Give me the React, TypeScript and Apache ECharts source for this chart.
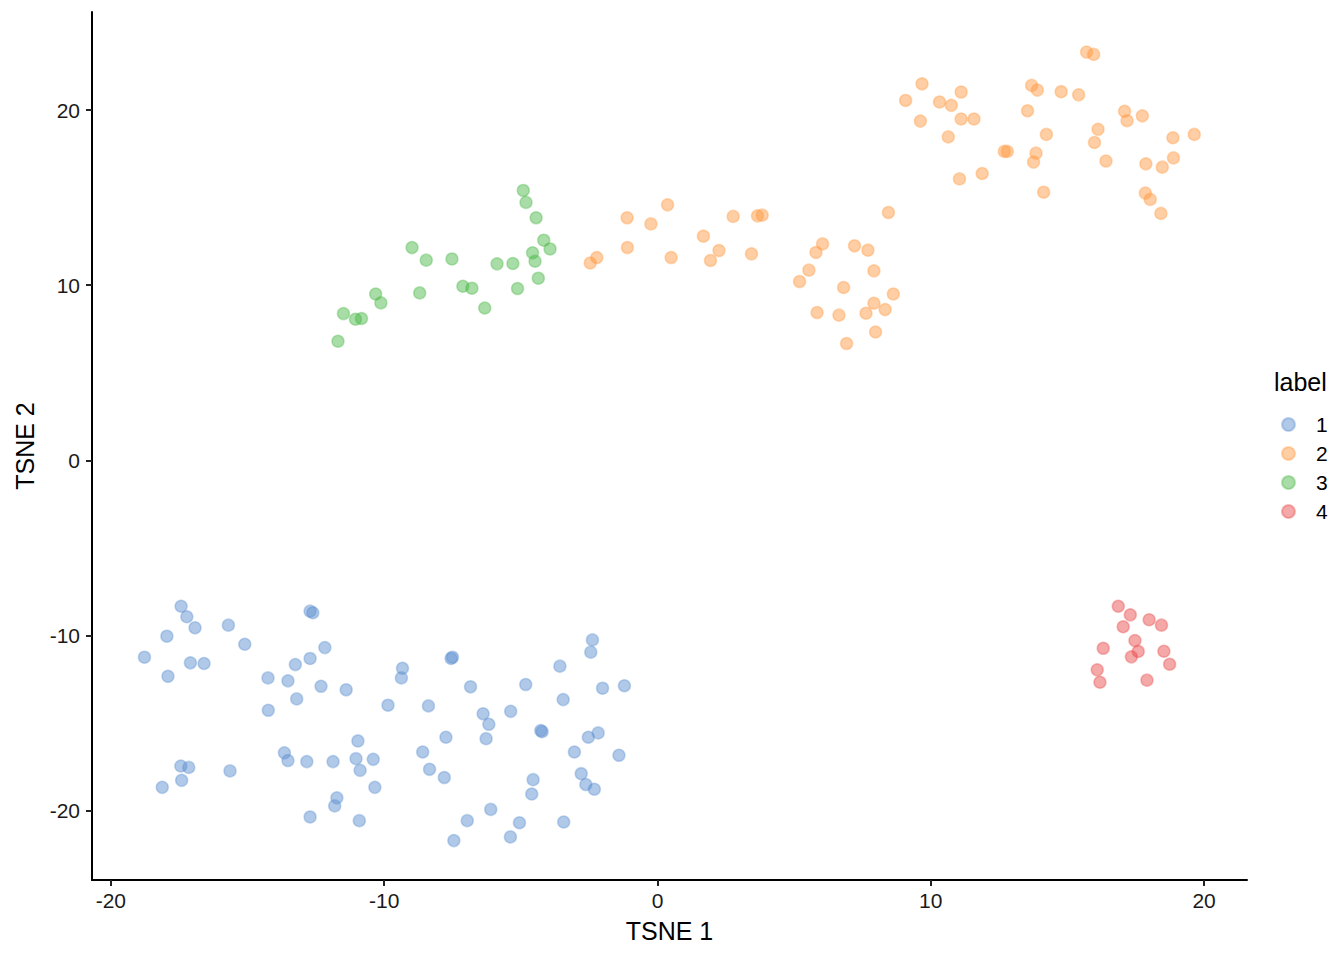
import React, { useEffect, useRef } from "react";
import * as echarts from "echarts";

const labels = ["1", "2", "3", "4"];
const colors = ["91,143,207", "255,153,64", "76,184,72", "232,74,74"];
const tickValuesX = [-20, -10, 0, 10, 20];
const tickValuesY = [-20, -10, 0, 10, 20];

const cluster1: number[][] = [
  [-17.43, -8.33], [-17.22, -8.93], [-16.92, -9.56], [-17.95, -10.04], [-18.77, -11.24],
  [-17.09, -11.56], [-16.59, -11.6], [-17.91, -12.33], [-15.7, -9.41], [-15.1, -10.5],
  [-12.71, -8.61], [-12.61, -8.7], [-12.17, -10.69], [-12.71, -11.31], [-13.25, -11.66],
  [-14.25, -12.42], [-13.52, -12.59], [-12.31, -12.9], [-11.39, -13.1], [-13.2, -13.62],
  [-14.24, -14.27], [-10.96, -16.02], [-13.65, -16.7], [-13.52, -17.14], [-12.83, -17.2],
  [-11.87, -17.2], [-11.03, -17.03], [-10.4, -17.07], [-10.88, -17.7], [-10.34, -18.67],
  [-17.44, -17.45], [-17.15, -17.53], [-17.41, -18.27], [-18.12, -18.67], [-15.64, -17.73],
  [-11.73, -19.27], [-11.81, -19.73], [-12.71, -20.36], [-10.91, -20.57],
  [-2.38, -10.25], [-2.44, -10.95], [-7.5, -11.24], [-7.55, -11.31], [-9.33, -11.87],
  [-9.37, -12.42], [-3.57, -11.75], [-6.84, -12.93], [-4.82, -12.8], [-2.01, -13.01],
  [-1.21, -12.87], [-9.86, -13.98], [-8.38, -14.02], [-3.45, -13.66], [-6.38, -14.47],
  [-6.17, -15.07], [-5.37, -14.33], [-4.27, -15.43], [-4.22, -15.49], [-2.17, -15.56],
  [-2.53, -15.81], [-7.74, -15.81], [-6.27, -15.89], [-8.59, -16.65], [-3.04, -16.65],
  [-1.41, -16.84], [-8.34, -17.64], [-7.8, -18.11], [-2.79, -17.89], [-4.55, -18.23],
  [-2.62, -18.51], [-2.31, -18.78], [-4.6, -19.05], [-6.1, -19.93], [-6.96, -20.57],
  [-5.05, -20.69], [-3.43, -20.65], [-7.45, -21.71], [-5.38, -21.5],
];

const cluster2: number[][] = [
  [0.37, 14.59], [-1.11, 13.85], [-0.24, 13.5], [2.77, 13.93], [3.66, 13.96], [3.83, 14.0],
  [1.68, 12.8], [-1.1, 12.15], [0.5, 11.58], [2.25, 11.98], [1.94, 11.41], [3.44, 11.79],
  [-2.22, 11.58], [-2.46, 11.27], [8.45, 14.15], [6.04, 12.36], [5.8, 11.87], [7.21, 12.25],
  [7.7, 12.0], [5.54, 10.86], [7.92, 10.82], [5.2, 10.21], [6.81, 9.87], [8.63, 9.5],
  [7.92, 8.97], [8.33, 8.61], [5.84, 8.44], [6.64, 8.29], [7.63, 8.4], [7.98, 7.33],
  [6.92, 6.67],
  [15.7, 23.31], [15.96, 23.18], [9.68, 21.5], [9.08, 20.55], [10.32, 20.46], [10.75, 20.27],
  [11.11, 21.03], [13.69, 21.41], [13.9, 21.14], [14.77, 21.05], [15.41, 20.87], [9.62, 19.37],
  [11.11, 19.49], [11.58, 19.49], [13.54, 19.96], [10.64, 18.47], [14.23, 18.61], [12.69, 17.64],
  [12.8, 17.64], [13.85, 17.54], [13.76, 17.03], [11.05, 16.07], [11.88, 16.38], [14.13, 15.31],
  [17.09, 19.93], [17.18, 19.39], [17.74, 19.67], [16.12, 18.9], [15.99, 18.15], [16.41, 17.09],
  [18.86, 18.42], [19.64, 18.61], [18.88, 17.27], [17.87, 16.93], [18.47, 16.74], [17.85, 15.26],
  [18.03, 14.9], [18.42, 14.1],
];

const cluster3: number[][] = [
  [-4.91, 15.41], [-4.81, 14.73], [-4.44, 13.85], [-4.16, 12.57], [-3.93, 12.07], [-4.57, 11.85],
  [-4.48, 11.37], [-4.36, 10.4], [-5.29, 11.24], [-5.87, 11.22], [-5.12, 9.81], [-6.32, 8.7],
  [-7.12, 9.94], [-6.79, 9.83], [-7.52, 11.5], [-8.98, 12.15], [-8.46, 11.43], [-8.7, 9.56],
  [-10.31, 9.5], [-10.12, 8.99], [-11.49, 8.38], [-11.05, 8.06], [-10.83, 8.1], [-11.69, 6.8],
];

const cluster4: number[][] = [
  [16.86, -8.33], [17.3, -8.82], [17.99, -9.1], [18.44, -9.41], [17.04, -9.5], [17.47, -10.29],
  [16.31, -10.73], [17.59, -10.91], [17.34, -11.22], [18.53, -10.9], [18.74, -11.64],
  [16.09, -11.96], [16.19, -12.67], [17.91, -12.55],
];

const clusters = [cluster1, cluster2, cluster3, cluster4];
const FONT = "'Liberation Sans', Arial, Helvetica, sans-serif";

export default function App() {
  const ref = useRef<HTMLDivElement>(null);
  useEffect(() => {
    document.body.style.margin = "0";
    const chart = echarts.init(ref.current!, null, { renderer: "svg" });
    const axisCommon = {
      type: "value" as const,
      splitLine: { show: false },
      axisLine: { show: true, onZero: false, lineStyle: { color: "#000", width: 2 } },
      axisTick: { show: true, length: 6, lineStyle: { color: "#222", width: 2 } },
      nameLocation: "middle" as const,
      nameTextStyle: { fontFamily: FONT, fontSize: 25, color: "#000" },
    };
    chart.setOption({
      animation: false,
      backgroundColor: "#fff",
      grid: { left: 92, right: 97, top: 12, bottom: 80 },
      xAxis: {
        ...axisCommon,
        min: -20.69,
        max: 21.57,
        name: "TSNE 1",
        nameGap: 38,
        axisTick: { ...axisCommon.axisTick, customValues: tickValuesX },
        axisLabel: {
          customValues: tickValuesX,
          margin: 10,
          fontFamily: FONT,
          fontSize: 21,
          color: "#1a1a1a",
        },
      },
      yAxis: {
        ...axisCommon,
        min: -23.96,
        max: 25.6,
        name: "TSNE 2",
        nameGap: 55,
        axisTick: { ...axisCommon.axisTick, customValues: tickValuesY },
        axisLabel: {
          customValues: tickValuesY,
          margin: 12,
          fontFamily: FONT,
          fontSize: 21,
          color: "#1a1a1a",
        },
      },
      legend: {
        orient: "vertical",
        left: 1276,
        top: 409,
        itemWidth: 13,
        itemHeight: 13,
        itemGap: 8,
        icon: "circle",
        data: labels,
        textStyle: { fontFamily: FONT, fontSize: 21, lineHeight: 21, color: "#000", padding: [0, 0, 0, 16] },
      },
      graphic: [
        {
          type: "text",
          left: 1274,
          top: 369,
          style: { text: "label", fontFamily: FONT, fontSize: 25, fill: "#000" },
        },
      ],
      series: clusters.map((d, i) => ({
        name: labels[i],
        type: "scatter",
        data: d,
        symbol: "circle",
        symbolSize: 12,
        itemStyle: {
          color: `rgba(${colors[i]},0.6)`,
          borderColor: `rgba(${colors[i]},0.45)`,
          borderWidth: 1.5,
        },
        emphasis: { disabled: true },
      })),
    });
    return () => chart.dispose();
  }, []);
  return <div ref={ref} style={{ width: 1344, height: 960 }} />;
}
